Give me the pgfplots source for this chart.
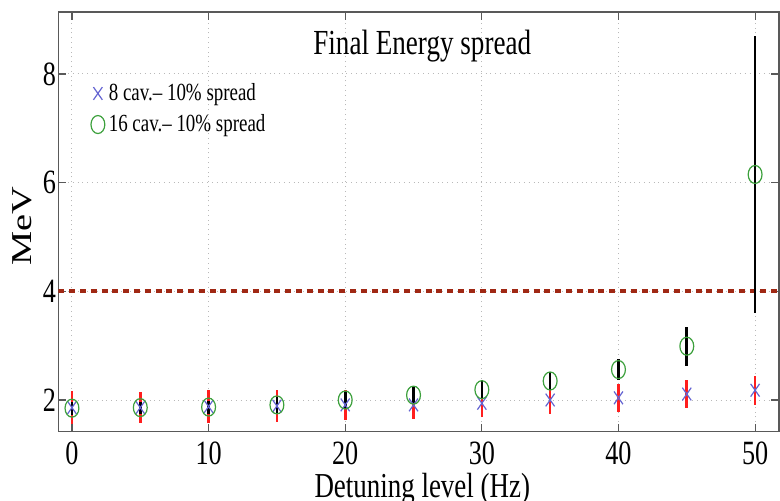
\documentclass[border=0pt]{standalone}
\usepackage{fontspec}
\setmainfont{Liberation Serif}[FakeStretch=0.77]
\newfontfamily\plainserif{Liberation Serif}
\usepackage{graphicx}
\usepackage{pgfplots}
\pgfplotsset{compat=1.18}
\definecolor{xblue}{RGB}{100,100,210}
\definecolor{cgreen}{RGB}{60,160,60}
\definecolor{barred}{RGB}{255,30,30}
\definecolor{limred}{RGB}{160,40,20}
\begin{document}
\begin{tikzpicture}
\begin{axis}[
  scale only axis, width=360.35pt, height=209.85pt,
  xmin=-1, xmax=51.75, ymin=1.417, ymax=9.14,
  xtick={0,10,...,50}, ytick={2,4,6,8},
  tick align=inside, major tick length=4pt,
  axis line style={gray!70!black, line width=0.8pt},
  every tick/.style={gray!70!black, line width=0.6pt},
  grid=major, grid style={gray!55, dotted, line width=0.5pt},
  /pgf/number format/assume math mode=true,
  tick label style={font=\fontsize{17}{20}\selectfont},
  yticklabel style={inner sep=1pt},
  xticklabel style={inner sep=0.5pt, yshift=-4.5pt},
  xlabel={Detuning level (Hz)},
  xlabel style={at={(axis description cs:0.505,0)}, anchor=north, inner sep=0pt, yshift=-20.5pt, font=\fontsize{17.5}{20}\selectfont},
  ylabel={\scalebox{1}[0.75]{MeV}},
  ylabel style={at={(axis description cs:-0.0366,0.489)}, anchor=base, inner sep=0pt, font=\plainserif\fontsize{19.2}{22}\selectfont},
  legend style={at={(axis description cs:0.042,0.845)}, anchor=north west, draw=none, fill=none,
    font=\fontsize{12.3}{14}\selectfont, row sep=1.5pt, inner sep=1pt},
  legend cell align=left,
]
% 4 MeV limit
\addplot[forget plot, limred, line width=2pt, dash pattern=on 3pt off 2.4pt] coordinates {(-1,4) (51.75,4)};
% 8 cav error bars
\addplot[forget plot, draw=none, no markers, error bars/.cd, y dir=both, y explicit, error mark=none,
  error bar style={draw=barred, line width=1.3pt, solid}] coordinates {
  (0,1.86) +- (0,0.30) (5,1.86) +- (0,0.29) (10,1.88) +- (0,0.30) (15,1.89) +- (0,0.29)
  (20,1.91) +- (0,0.28) (25,1.91) +- (0,0.26) (30,1.94) +- (0,0.25) (35,2.00) +- (0,0.26)
  (40,2.04) +- (0,0.26) (45,2.11) +- (0,0.26) (50,2.18) +- (0,0.27)};
% 8 cav
\addplot[only marks, mark=x, mark size=4.5pt, xblue, mark options={xscale=0.7, line width=0.6pt}] coordinates {
  (0,1.86) (5,1.86) (10,1.88) (15,1.89) (20,1.91) (25,1.91) (30,1.94) (35,2.00) (40,2.04) (45,2.11) (50,2.18)};
% 16 cav error bars
\addplot[forget plot, draw=none, no markers, error bars/.cd, y dir=both, y explicit, error mark=none,
  error bar style={draw=black, line width=1.3pt, solid}] coordinates {
  (0,1.85) +- (0,0.12) (5,1.86) +- (0,0.11) (10,1.87) +- (0,0.12) (15,1.91) +- (0,0.15)
  (20,2.00) +- (0,0.17) (25,2.09) +- (0,0.15) (30,2.19) +- (0,0.175) (35,2.35) +- (0,0.17)
  (40,2.56) +- (0,0.19) (45,2.99) +- (0,0.36) (50,6.15) +- (0,2.55)};
% 16 cav
\addplot[only marks, mark=o, mark size=4.5pt, cgreen, mark options={xscale=0.77, line width=0.6pt}] coordinates {
  (0,1.85) (5,1.86) (10,1.87) (15,1.91) (20,2.00) (25,2.09) (30,2.19) (35,2.35) (40,2.56) (45,2.99) (50,6.15)};
\legend{8 cav.-- 10\% spread, 16 cav.-- 10\% spread}
\node[anchor=base, inner sep=0pt, font=\fontsize{17.6}{20}\selectfont] at (axis description cs:0.505,0.898) {Final Energy spread};
\end{axis}
\pgfresetboundingbox
\useasboundingbox (-29.15pt,-34.65pt) rectangle (360.85pt,215.85pt);
\end{tikzpicture}
\end{document}
